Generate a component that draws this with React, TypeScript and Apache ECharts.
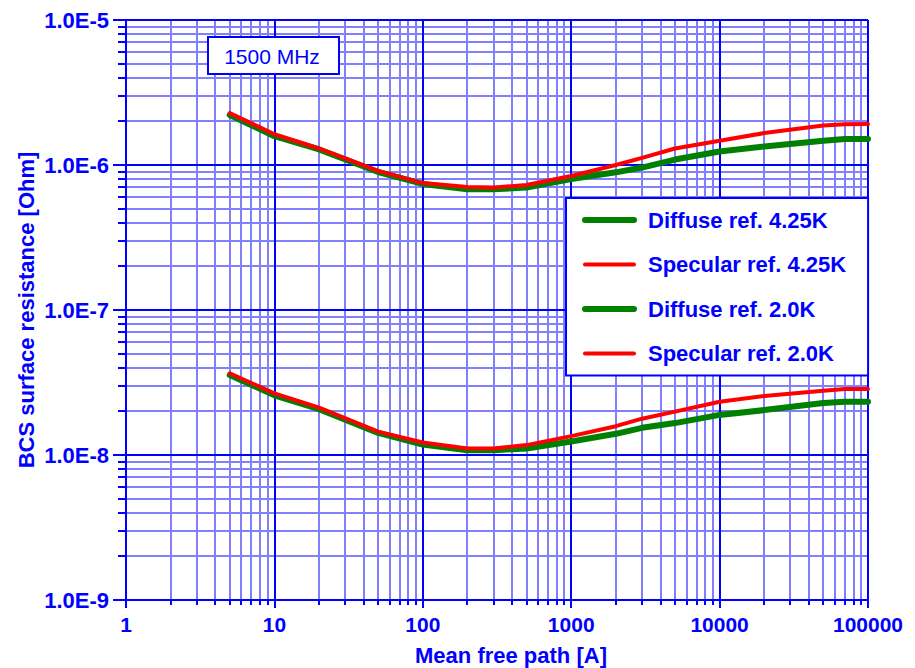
import React, { useEffect, useRef } from "react";
import * as echarts from "echarts";

// Mean free path [A]
const FREE_PATH = [5, 10, 20, 50, 100, 200, 300, 500, 1000, 2000, 3000, 5000, 10000, 20000, 50000, 70000, 100000];
// BCS surface resistance [Ohm]
const DIFFUSE_425 = [2.21e-6, 1.58e-6, 1.28e-6, 8.95e-7, 7.4e-7, 6.8e-7, 6.8e-7, 7.0e-7, 8.0e-7, 8.9e-7, 9.6e-7, 1.09e-6, 1.24e-6, 1.34e-6, 1.47e-6, 1.51e-6, 1.51e-6];
const SPECULAR_425 = [2.28e-6, 1.63e-6, 1.3e-6, 9.1e-7, 7.5e-7, 7.05e-7, 7.0e-7, 7.28e-7, 8.4e-7, 1.0e-6, 1.12e-6, 1.3e-6, 1.47e-6, 1.66e-6, 1.87e-6, 1.91e-6, 1.92e-6];
const DIFFUSE_20 = [3.56e-8, 2.58e-8, 2.07e-8, 1.42e-8, 1.18e-8, 1.08e-8, 1.08e-8, 1.11e-8, 1.24e-8, 1.4e-8, 1.54e-8, 1.66e-8, 1.89e-8, 2.04e-8, 2.28e-8, 2.33e-8, 2.33e-8];
const SPECULAR_20 = [3.66e-8, 2.66e-8, 2.12e-8, 1.45e-8, 1.22e-8, 1.11e-8, 1.11e-8, 1.17e-8, 1.35e-8, 1.58e-8, 1.78e-8, 1.99e-8, 2.33e-8, 2.55e-8, 2.77e-8, 2.85e-8, 2.85e-8];

const SERIES_NAMES = ["Diffuse ref. 4.25K", "Specular ref. 4.25K", "Diffuse ref. 2.0K", "Specular ref. 2.0K"];
const X_DECADES = [1, 10, 100, 1000, 10000];
const Y_DECADES = [1e-9, 1e-8, 1e-7, 1e-6];
const MINOR_STEPS = [2, 3, 4, 5, 6, 7, 8, 9];
const X_MIN = 1;
const X_MAX = 100000;
const Y_MIN = 1e-9;
const Y_MAX = 1e-5;
const FREQ_LABEL = "1500 MHz";
const X_TITLE = "Mean free path [A]";
const Y_TITLE = "BCS surface resistance [Ohm]";

const BLUE = "#0000ff";
const GRID_MINOR = "#8080ff";
const GREEN = "#008000";
const RED = "#ff0000";
const FONT = "'Liberation Sans', Arial, sans-serif";

export default function App() {
  const ref = useRef<HTMLDivElement>(null);

  useEffect(() => {
    if (!ref.current) return;
    const chart = echarts.init(ref.current, null, { renderer: "svg" });

    const xMinor: number[][] = [];
    X_DECADES.forEach((d) => MINOR_STEPS.forEach((m) => xMinor.push([m * d, Y_MIN])));
    const yMinor: number[][] = [];
    Y_DECADES.forEach((d) => MINOR_STEPS.forEach((m) => yMinor.push([X_MIN, m * d])));

    const pair = (ys: number[]) => FREE_PATH.map((x, i) => [x, ys[i]]);
    const lineSeries = (name: string, ys: number[], color: string, width: number) => ({
      name,
      type: "line",
      data: pair(ys),
      symbol: "none",
      showSymbol: false,
      z: 3,
      itemStyle: { color },
      lineStyle: { color, width, cap: "round", join: "round" },
      silent: true,
    });

    chart.setOption({
      animation: false,
      grid: { left: 126, top: 20, width: 742, height: 580, containLabel: false },
      xAxis: {
        type: "log",
        logBase: 10,
        min: X_MIN,
        max: X_MAX,
        z: 1,
        axisLine: { show: true, lineStyle: { color: BLUE, width: 2 } },
        axisTick: { show: true, inside: false, length: 8, lineStyle: { color: BLUE, width: 2 } },
        axisLabel: {
          color: BLUE,
          fontSize: 21,
          fontWeight: "bold",
          fontFamily: FONT,
          margin: 14,
          formatter: (v: number) => String(Math.round(v)),
        },
        splitLine: { show: true, lineStyle: { color: BLUE, width: 2 } },
      },
      yAxis: {
        type: "log",
        logBase: 10,
        min: Y_MIN,
        max: Y_MAX,
        z: 1,
        axisLine: { show: true, lineStyle: { color: BLUE, width: 2 } },
        axisTick: { show: true, inside: false, length: 13, lineStyle: { color: BLUE, width: 2 } },
        axisLabel: {
          color: BLUE,
          fontSize: 22,
          fontWeight: "bold",
          fontFamily: FONT,
          margin: 17,
          formatter: (v: number) => "1.0E" + Math.round(Math.log10(v)),
        },
        splitLine: { show: true, lineStyle: { color: BLUE, width: 2 } },
      },
      legend: {
        data: SERIES_NAMES,
        orient: "vertical",
        left: 566,
        top: 198,
        padding: [11, 22, 11, 16],
        itemGap: 22.5,
        itemWidth: 49,
        itemHeight: 14,
        backgroundColor: "#ffffff",
        borderColor: BLUE,
        borderWidth: 2,
        borderRadius: 0,
        selectedMode: false,
        itemStyle: { opacity: 0, borderWidth: 0 },
        lineStyle: { width: "inherit", cap: "round" },
        textStyle: {
          color: BLUE,
          fontSize: 22,
          fontWeight: "bold",
          fontFamily: FONT,
          padding: [0, 0, 0, 9],
        },
      },
      graphic: [
        {
          type: "rect",
          left: 207,
          top: 36,
          z: 10,
          shape: { width: 131, height: 37 },
          style: { fill: "#ffffff", stroke: BLUE, lineWidth: 2 },
        },
        {
          type: "text",
          x: 272,
          y: 56,
          z: 11,
          style: {
            text: FREQ_LABEL,
            fill: BLUE,
            font: `21px ${FONT}`,
            textAlign: "center",
            textVerticalAlign: "middle",
          },
        },
        {
          type: "text",
          x: 511,
          y: 655,
          style: {
            text: X_TITLE,
            fill: BLUE,
            font: `bold 22px ${FONT}`,
            textAlign: "center",
            textVerticalAlign: "middle",
          },
        },
        {
          type: "text",
          x: 26,
          y: 310,
          rotation: Math.PI / 2,
          style: {
            text: Y_TITLE,
            fill: BLUE,
            font: `bold 22px ${FONT}`,
            textAlign: "center",
            textVerticalAlign: "middle",
          },
        },
      ],
      series: [
        {
          name: "xMinorGrid",
          type: "custom",
          z: 0,
          silent: true,
          clip: false,
          data: xMinor,
          encode: { x: 0, y: 1 },
          renderItem: (params: any, api: any) => {
            const cs = params.coordSys;
            const p = api.coord([api.value(0), api.value(1)]);
            const x = Math.round(p[0]);
            const b = cs.y + cs.height;
            return {
              type: "group",
              children: [
                { type: "line", shape: { x1: x, y1: cs.y, x2: x, y2: b }, style: { stroke: GRID_MINOR, lineWidth: 2 } },
                { type: "line", shape: { x1: x, y1: b, x2: x, y2: b + 5 }, style: { stroke: BLUE, lineWidth: 2 } },
              ],
            };
          },
        },
        {
          name: "yMinorGrid",
          type: "custom",
          z: 0,
          silent: true,
          clip: false,
          data: yMinor,
          encode: { x: 0, y: 1 },
          renderItem: (params: any, api: any) => {
            const cs = params.coordSys;
            const p = api.coord([api.value(0), api.value(1)]);
            const y = Math.round(p[1]);
            return {
              type: "group",
              children: [
                { type: "line", shape: { x1: cs.x, y1: y, x2: cs.x + cs.width, y2: y }, style: { stroke: GRID_MINOR, lineWidth: 2 } },
                { type: "line", shape: { x1: cs.x - 8, y1: y, x2: cs.x, y2: y }, style: { stroke: BLUE, lineWidth: 2 } },
              ],
            };
          },
        },
        lineSeries(SERIES_NAMES[0], DIFFUSE_425, GREEN, 6),
        lineSeries(SERIES_NAMES[1], SPECULAR_425, RED, 4),
        lineSeries(SERIES_NAMES[2], DIFFUSE_20, GREEN, 6),
        lineSeries(SERIES_NAMES[3], SPECULAR_20, RED, 4),
      ],
    });

    return () => chart.dispose();
  }, []);

  return (
    <div
      ref={ref}
      style={{ position: "absolute", left: 0, top: 0, width: 915, height: 668, background: "#ffffff" }}
    />
  );
}
